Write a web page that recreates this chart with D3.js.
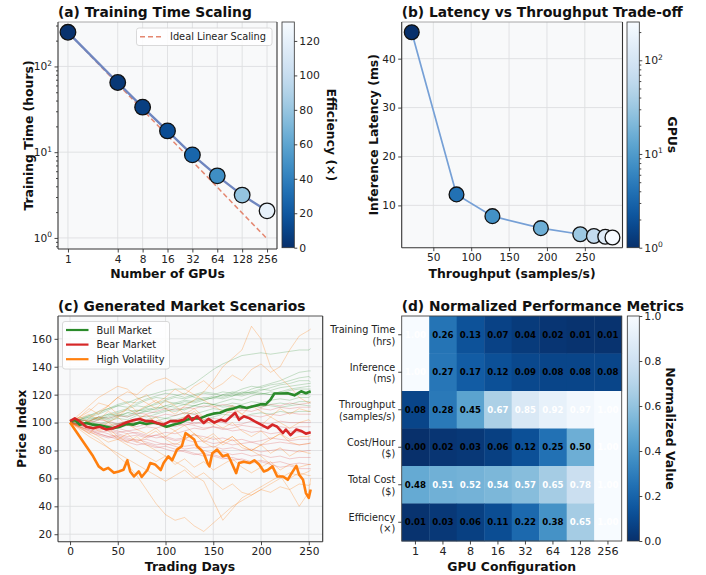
<!DOCTYPE html>
<html><head><meta charset="utf-8">
<script src="https://cdn.jsdelivr.net/npm/d3@7"></script>
<style>
body{margin:0;background:#fff;}
svg{display:block;font-family:"DejaVu Sans",sans-serif;}
</style></head><body>
<svg id="fig" width="706" height="575"></svg>
<script>
// ---------------- DATA ----------------
const gpus = [1,4,8,16,32,64,128,256];
const gpuLabels = ["1","4","8","16","32","64","128","256"];
const trainHours = [250,65,33.5,17.7,9.3,5.3,3.16,2.07];
const idealHours = [250,62.5,31.25,15.63,7.81,3.91,1.95,0.98];
const efficiency = [1,3.85,7.46,14.1,26.9,47.2,79.1,120.8];
const effRange = [0,131];
const effTicks = [0,20,40,60,80,100,120];

const throughput = [21.5,80.6,128,192,244,262,277,286.5];
const latency = [45.4,12.25,7.8,5.35,4.1,3.75,3.6,3.45];
const thrTicks = [50,100,150,200,250];
const latTicks = [10,20,30,40];

const scenarioNames = ["Bull Market","Bear Market","High Volatility"];
const scenarioColors = ["#2a8a2a","#d62728","#ff7f0e"];
const dayTicks = [0,50,100,150,200,250];
const priceTicks = [20,40,60,80,100,120,140,160];

const bullDays = [0,5,10,17,24,31,38,45,52,59,66,73,80,87,94,101,108,115,122,129,136,143,150,157,164,171,178,185,192,199,205,210,214,221,228,235,242,247,252];
const bullVals = [101,102,98.5,99.7,98.5,98,97,96,97,99,98.5,100,99,100,99,97,98.5,99.7,102,103,103,105,106.4,107,109,110,111.7,110.5,111.7,113,113,116.5,120.8,120.8,121,119.5,122.4,121,122.4];
const bearDays = [0,5,10,17,24,31,38,45,52,59,66,73,80,86,91,98,105,112,119,124,128,133,140,145,151,158,163,168,173,177,182,188,193,200,207,212,217,223,226,231,237,242,247,252];
const bearVals = [101,103,101,97,96,97,95,96,98,100,101.6,102.6,101,101,99.7,98.5,101,101,102,105,101.6,104.5,99.7,102.6,100,102,101,104,107,102,104.5,103,101,98.5,96,98.5,97,92.5,95,91,95,94,92,93];
const volDays = [0,10,17,24,30,35,40,46,51,56,60,63,67,72,75,81,84,89,95,98,103,107,112,117,121,126,130,133,137,140,144,146,149,154,160,165,168,174,177,182,188,193,198,203,207,212,217,223,228,231,237,240,244,247,250,252];
const volVals = [100,90,83,76,68.6,66,67.5,64,65,66.2,73,65,61.4,65,61,66,71,70,66,71,75.8,73,80.6,83,92.5,90,87.8,83,80.6,78,71,68.6,78,80.6,75.8,77,73,63.8,71,72,71,73,70,65,66,68.6,61.4,61.4,59,62.6,69,62.6,59,49.5,46,52];

const faintDays = [0,10,20,30,40,50,60,70,80,90,100,110,120,130,140,150,160,170,180,190,200,210,220,230,240,250,252];
const bullFaint = [
 [100,102,104,106,109,112,114,117,119,121,123,124,124,128,133,138,142,145,148,149,150,149,150,151,152,152,153],
 [100,101,99,102,104,106,105,108,110,109,112,114,113,116,118,117,120,122,121,124,126,128,130,133,136,137,137],
 [100,102,104,103,106,108,110,112,111,114,116,118,117,119,121,120,122,121,124,126,125,127,128,130,132,133,132],
 [100,99,101,103,102,104,107,106,109,111,110,113,115,114,116,118,120,119,122,121,123,125,127,128,130,130,129],
 [100,103,105,107,110,112,111,113,116,118,117,119,121,118,116,118,117,119,121,122,124,123,125,126,127,128,128],
 [100,98,100,99,101,103,102,105,104,106,108,110,109,112,114,113,115,117,116,119,121,120,122,124,125,126,126],
 [100,101,103,102,105,107,109,108,111,113,115,114,116,115,117,119,118,120,119,121,120,122,121,123,124,124,124],
 [100,102,101,104,103,105,104,106,108,107,109,108,110,112,111,113,112,114,113,115,114,116,117,116,118,118,119],
 [100,99,97,98,100,99,101,100,102,104,103,105,107,106,108,110,109,111,110,112,111,113,114,113,115,115,114],
 [100,101,102,104,106,105,107,109,108,110,112,111,113,112,114,113,111,112,110,111,113,112,111,112,113,112,112],
 [100,99,100,98,97,99,98,100,99,101,103,102,104,103,102,104,106,105,104,106,107,106,108,107,108,108,108],
 [100,102,105,108,110,113,115,114,117,119,121,120,118,120,122,121,119,121,120,122,121,120,122,121,120,120,121]
];
const bearFaint = [
 [100,102,101,104,103,105,104,107,106,108,110,109,111,110,112,111,113,112,110,112,111,113,112,114,113,114,114],
 [100,98,100,102,101,99,101,103,105,104,106,105,107,106,104,106,108,107,109,108,110,109,111,110,111,111,111],
 [100,101,99,97,98,96,98,97,99,101,100,102,101,99,101,103,102,104,103,105,104,106,105,107,106,106,106],
 [100,99,101,100,98,99,101,100,98,99,97,99,98,100,99,101,100,98,99,101,100,99,101,100,100,100,100],
 [100,98,96,97,95,96,94,95,97,96,98,97,99,98,96,97,95,96,98,97,96,98,97,96,97,97,97],
 [100,97,95,93,94,92,90,91,89,91,93,92,94,96,95,97,96,94,95,93,94,92,93,94,93,93,93],
 [100,99,97,95,96,94,92,93,91,89,90,88,89,91,90,88,89,87,88,86,87,89,88,87,88,88,88],
 [100,98,99,97,95,93,94,92,90,91,89,87,88,86,87,85,86,84,85,86,84,85,86,85,84,85,85],
 [100,97,94,92,90,91,89,87,88,86,84,85,83,84,82,83,81,82,80,81,79,80,81,80,79,80,80],
 [100,98,96,94,92,89,87,88,86,84,85,83,81,82,80,78,79,77,78,76,77,75,76,74,75,75,75],
 [100,97,95,92,90,88,86,84,85,83,81,79,80,78,76,77,75,73,74,72,73,71,72,70,71,70,70],
 [100,96,93,91,89,90,88,86,84,82,83,81,79,77,78,76,74,75,73,71,72,70,68,69,67,67,67]
];
const volFaint = [
 [100,104,110,106,112,118,114,108,112,116,110,106,112,116,122,130,140,146,152,169,160,140,132,126,118,114,115],
 [100,97,103,108,112,106,110,116,120,114,118,124,120,126,130,124,128,134,130,138,142,136,140,152,162,166,167],
 [100,97,92,88,82,76,70,62,52,42,34,30,32,26,22,28,34,40,44,48,52,50,54,52,56,55,56],
 [100,102,98,94,96,90,86,90,84,80,76,72,68,62,58,44,30,38,46,50,54,58,62,60,64,62,62],
 [100,98,101,104,100,96,99,95,92,96,90,94,88,92,86,90,84,88,82,80,76,70,62,52,40,50,60],
 [100,104,108,114,112,118,122,120,126,130,132,128,124,120,116,112,108,112,106,102,98,104,100,96,100,102,101],
 [100,96,92,98,94,88,92,86,90,94,88,84,88,92,86,82,86,90,84,80,84,88,92,88,90,90,91],
 [100,103,106,102,108,104,110,106,100,104,98,94,98,92,88,92,86,90,84,80,84,78,82,76,80,78,78],
 [100,97,94,90,86,88,84,80,76,72,76,70,74,68,72,66,70,74,68,64,68,72,66,70,68,70,70],
 [100,104,100,96,100,104,98,102,106,100,96,100,104,108,102,98,104,110,106,112,108,104,110,106,110,108,108],
 [100,106,112,118,122,126,124,118,114,110,116,112,106,110,104,100,96,100,94,90,94,88,92,86,84,85,86],
 [100,95,90,86,82,78,74,70,66,62,58,62,66,60,64,58,52,56,50,48,52,56,60,64,62,65,66]
];

const metricLabels = [["Training Time","(hrs)"],["Inference","(ms)"],["Throughput","(samples/s)"],["Cost/Hour","($)"],["Total Cost","($)"],["Efficiency","(×)"]];
const normTrain = [1.00,0.26,0.13,0.07,0.04,0.02,0.01,0.01];
const normInfer = [1.00,0.27,0.17,0.12,0.09,0.08,0.08,0.08];
const normThru  = [0.08,0.28,0.45,0.67,0.85,0.92,0.97,1.00];
const normCostH = [0.00,0.02,0.03,0.06,0.12,0.25,0.50,1.00];
const normTotal = [0.48,0.51,0.52,0.54,0.57,0.65,0.78,1.00];
const normEff   = [0.01,0.03,0.06,0.11,0.22,0.38,0.65,1.00];
const normRows = [normTrain,normInfer,normThru,normCostH,normTotal,normEff];
const normTicks = [0,0.2,0.4,0.6,0.8,1.0];

// ---------------- HELPERS ----------------
const svg = d3.select("#fig");
const FONT = "DejaVu Sans, sans-serif";
const BG = "#f8f9fa", GRID = "#dedfe1";
const TICKF = 10.6, LABF = 12.4, TITF = 13.8, CBF = 10.8;
const blues_r = t => d3.interpolateBlues(1 - Math.max(0, Math.min(1, t)));
const defs = svg.append("defs");

function pad(lo, hi) { const m = (hi - lo) * 0.05; return [lo - m, hi + m]; }

function background(box) {
  svg.append("rect").attr("x", box.x0).attr("y", box.y0)
    .attr("width", box.x1 - box.x0).attr("height", box.y1 - box.y0).attr("fill", BG);
}
function gridLines(box, xs, xv, ys, yv) {
  const g = svg.append("g");
  if (xs) g.selectAll(".gx").data(xv).join("line")
    .attr("x1", d => xs(d)).attr("x2", d => xs(d)).attr("y1", box.y0).attr("y2", box.y1)
    .attr("stroke", GRID).attr("stroke-width", 0.9);
  if (ys) g.selectAll(".gy").data(yv).join("line")
    .attr("y1", d => ys(d)).attr("y2", d => ys(d)).attr("x1", box.x0).attr("x2", box.x1)
    .attr("stroke", GRID).attr("stroke-width", 0.9);
}
function spines(box, topCol) {
  const g = svg.append("g").attr("fill", "none");
  g.append("line").attr("x1", box.x0).attr("x2", box.x1).attr("y1", box.y0).attr("y2", box.y0).attr("stroke", topCol || "#a8a8a8").attr("stroke-width", 1);
  g.append("line").attr("x1", box.x1).attr("x2", box.x1).attr("y1", box.y0).attr("y2", box.y1).attr("stroke", "#333").attr("stroke-width", 1.1);
  g.append("line").attr("x1", box.x0).attr("x2", box.x0).attr("y1", box.y0).attr("y2", box.y1).attr("stroke", "#333").attr("stroke-width", 1.1);
  g.append("line").attr("x1", box.x0).attr("x2", box.x1).attr("y1", box.y1).attr("y2", box.y1).attr("stroke", "#333").attr("stroke-width", 1.1);
}
function styleAxis(a, fs) {
  a.select(".domain").remove();
  a.selectAll("line").attr("stroke", "#333").attr("stroke-width", 0.9);
  a.selectAll("text").attr("font-size", fs || TICKF).attr("fill", "#222").attr("font-family", FONT);
}
function xAxis(box, scale, vals, fmt) {
  const a = svg.append("g").attr("transform", `translate(0,${box.y1})`)
    .call(d3.axisBottom(scale).tickValues(vals).tickFormat(fmt).tickSize(3.5).tickPadding(2.5));
  styleAxis(a);
  return a;
}
function yAxis(box, scale, vals, fmt) {
  const a = svg.append("g").attr("transform", `translate(${box.x0},0)`)
    .call(d3.axisLeft(scale).tickValues(vals).tickFormat(fmt).tickSize(3.5).tickPadding(2.5));
  styleAxis(a);
  return a;
}
function title(box, txt) {
  svg.append("text").attr("x", box.x0).attr("y", box.y0 - 5).text(txt)
    .attr("font-size", TITF).attr("font-weight", "bold").attr("fill", "#111").attr("font-family", FONT);
}
function label(x, y, txt, rot) {
  svg.append("text").attr("transform", `translate(${x},${y}) rotate(${rot || 0})`)
    .attr("text-anchor", "middle").attr("dominant-baseline", "central").text(txt)
    .attr("font-size", LABF).attr("font-weight", "bold").attr("fill", "#111").attr("font-family", FONT);
}
function colorbar(id, cb, scale, ticks, fmt, minor) {
  const grad = defs.append("linearGradient").attr("id", id)
    .attr("x1", 0).attr("y1", 1).attr("x2", 0).attr("y2", 0);
  d3.range(0, 1.0001, 0.05).forEach(t => grad.append("stop").attr("offset", t).attr("stop-color", blues_r(t)));
  svg.append("rect").attr("x", cb.x0).attr("y", cb.y0).attr("width", cb.x1 - cb.x0).attr("height", cb.y1 - cb.y0)
    .attr("fill", `url(#${id})`).attr("stroke", "#333").attr("stroke-width", 0.8);
  if (minor) {
    const m = svg.append("g").attr("transform", `translate(${cb.x1},0)`)
      .call(d3.axisRight(scale).tickValues(minor).tickFormat("").tickSize(2));
    styleAxis(m);
  }
  const a = svg.append("g").attr("transform", `translate(${cb.x1},0)`)
    .call(d3.axisRight(scale).tickValues(ticks).tickFormat(fmt).tickSize(3).tickPadding(2));
  styleAxis(a, CBF);
  return a;
}
function powLabels(axisG, base, fs) {
  axisG.selectAll(".tick text").each(function(d) {
    const t = d3.select(this); t.text("");
    t.append("tspan").text(base);
    t.append("tspan").text(Math.round(Math.log10(d))).attr("font-size", fs * 0.7).attr("dy", -fs * 0.42);
  });
}

// ---------------- (a) Training Time Scaling ----------------
const A = {x0: 58, x1: 277, y0: 22, y1: 249};
const ax = d3.scaleLog().base(2).domain([Math.pow(2, -0.4), Math.pow(2, 8.4)]).range([A.x0, A.x1]);
const aLog = pad(Math.log10(d3.min(idealHours.concat(trainHours))), Math.log10(d3.max(trainHours.concat(idealHours))));
const ay = d3.scaleLog().domain([Math.pow(10, aLog[0]), Math.pow(10, aLog[1])]).range([A.y1, A.y0]);
background(A);
gridLines(A, ax, gpus, ay, [1, 10, 100]);
svg.append("path").datum(gpus.map((g, i) => [g, idealHours[i]]))
  .attr("d", d3.line().x(d => ax(d[0])).y(d => ay(d[1])))
  .attr("fill", "none").attr("stroke", "#e07358").attr("stroke-width", 1.5).attr("stroke-dasharray", "5,3").attr("opacity", 0.85);
svg.append("path").datum(gpus.map((g, i) => [g, trainHours[i]]))
  .attr("d", d3.line().x(d => ax(d[0])).y(d => ay(d[1])))
  .attr("fill", "none").attr("stroke", "#6f86bf").attr("stroke-width", 2.4);
const effScale = d3.scaleLinear().domain(effRange).range([0, 1]);
svg.append("g").selectAll("circle").data(gpus).join("circle")
  .attr("cx", d => ax(d)).attr("cy", (d, i) => ay(trainHours[i])).attr("r", 7.8)
  .attr("fill", (d, i) => blues_r(effScale(efficiency[i]))).attr("stroke", "#111").attr("stroke-width", 1.3);
spines(A);
xAxis(A, ax, gpus, (d, i) => gpuLabels[i]);
{
  const minorVals = [];
  [0.1, 1, 10, 100].forEach(b => d3.range(2, 10).forEach(k => { const v = b * k; if (v > ay.domain()[0] && v < ay.domain()[1]) minorVals.push(v); }));
  const m = svg.append("g").attr("transform", `translate(${A.x0},0)`)
    .call(d3.axisLeft(ay).tickValues(minorVals).tickFormat("").tickSize(2));
  styleAxis(m);
  const y = yAxis(A, ay, [1, 10, 100], d => d);
  powLabels(y, "10", TICKF);
}
// legend
{
  const lg = svg.append("g");
  lg.append("rect").attr("x", 136.5).attr("y", 28).attr("width", 135.5).attr("height", 17.5).attr("rx", 2.5)
    .attr("fill", "#fff").attr("fill-opacity", 0.85).attr("stroke", "#d0d0d0").attr("stroke-width", 0.8);
  lg.append("line").attr("x1", 140).attr("x2", 162).attr("y1", 36.8).attr("y2", 36.8)
    .attr("stroke", "#e07358").attr("stroke-width", 1.5).attr("stroke-dasharray", "5,3").attr("opacity", 0.85);
  lg.append("text").attr("x", 170).attr("y", 36.8).attr("dominant-baseline", "central").text("Ideal Linear Scaling")
    .attr("font-size", 9.8).attr("fill", "#222").attr("font-family", FONT);
}
title(A, "(a) Training Time Scaling");
label((A.x0 + A.x1) / 2, 273, "Number of GPUs");
label(28, (A.y0 + A.y1) / 2, "Training Time (hours)", -90);
const CA = {x0: 282, x1: 294.3, y0: 22, y1: 247.7};
colorbar("cbA", CA, d3.scaleLinear().domain(effRange).range([CA.y1, CA.y0]), effTicks, d => d);
label(331, (CA.y0 + CA.y1) / 2, "Efficiency (×)", 90);

// ---------------- (b) Latency vs Throughput ----------------
const B = {x0: 401.7, x1: 622.5, y0: 22, y1: 247.7};
const bx = d3.scaleLinear().domain(pad(d3.min(throughput), d3.max(throughput))).range([B.x0, B.x1]);
const by = d3.scaleLinear().domain(pad(d3.min(latency), d3.max(latency))).range([B.y1, B.y0]);
background(B);
gridLines(B, bx, thrTicks, by, latTicks);
svg.append("path").datum(throughput.map((t, i) => [t, latency[i]]))
  .attr("d", d3.line().x(d => bx(d[0])).y(d => by(d[1])))
  .attr("fill", "none").attr("stroke", "#76a0d6").attr("stroke-width", 1.7);
const gpuLog = d3.scaleLog().domain([1, 256]).range([0, 1]);
svg.append("g").selectAll("circle").data(throughput).join("circle")
  .attr("cx", d => bx(d)).attr("cy", (d, i) => by(latency[i])).attr("r", 7.4)
  .attr("fill", (d, i) => blues_r(gpuLog(gpus[i]))).attr("stroke", "#111").attr("stroke-width", 1.3);
spines(B);
xAxis(B, bx, thrTicks, d => d);
yAxis(B, by, latTicks, d => d);
title(B, "(b) Latency vs Throughput Trade-off");
label((B.x0 + B.x1) / 2, 273, "Throughput (samples/s)");
label(373.3, (B.y0 + B.y1) / 2, "Inference Latency (ms)", -90);
const CB = {x0: 627, x1: 639.3, y0: 22, y1: 247.7};
{
  const cs = d3.scaleLog().domain([1, 256]).range([CB.y1, CB.y0]);
  const minor = [2,3,4,5,6,7,8,9,20,30,40,50,60,70,80,90,200];
  const a = colorbar("cbB", CB, cs, [1, 10, 100], d => d, minor);
  powLabels(a, "10", CBF);
}
label(672, (CB.y0 + CB.y1) / 2, "GPUs", 90);

// ---------------- (c) Market Scenarios ----------------
const C = {x0: 58, x1: 322.7, y0: 316, y1: 541.7};
const allPrices = [].concat(bullVals, bearVals, volVals, ...bullFaint, ...bearFaint, ...volFaint);
const cx = d3.scaleLinear().domain(pad(0, 252)).range([C.x0, C.x1]);
const cy = d3.scaleLinear().domain(pad(d3.min(allPrices), d3.max(allPrices))).range([C.y1, C.y0]);
background(C);
gridLines(C, cx, dayTicks, cy, priceTicks);
const lineC = d3.line().x(d => cx(d[0])).y(d => cy(d[1]));
const clipC = defs.append("clipPath").attr("id", "clipC");
clipC.append("rect").attr("x", C.x0).attr("y", C.y0).attr("width", C.x1 - C.x0).attr("height", C.y1 - C.y0);
const gc = svg.append("g").attr("clip-path", "url(#clipC)");
const faintOpacity = [0.26, 0.24, 0.3];
[bullFaint, bearFaint, volFaint].forEach((set, si) => {
  set.forEach(vals => {
    gc.append("path").datum(faintDays.map((d, i) => [d, vals[i]])).attr("d", lineC)
      .attr("fill", "none").attr("stroke", scenarioColors[si]).attr("stroke-width", 0.95)
      .attr("stroke-opacity", faintOpacity[si]).attr("stroke-linejoin", "round");
  });
});
[[bullDays, bullVals], [bearDays, bearVals], [volDays, volVals]].forEach((s, si) => {
  gc.append("path").datum(s[0].map((d, i) => [d, s[1][i]])).attr("d", lineC)
    .attr("fill", "none").attr("stroke", scenarioColors[si]).attr("stroke-width", 2.6).attr("stroke-linejoin", "round");
});
spines(C, "#555");
xAxis(C, cx, dayTicks, d => d);
yAxis(C, cy, priceTicks, d => d);
{
  const lg = svg.append("g");
  lg.append("rect").attr("x", 62.5).attr("y", 321.5).attr("width", 107).attr("height", 47.5).attr("rx", 2.5)
    .attr("fill", "#fff").attr("fill-opacity", 0.85).attr("stroke", "#d0d0d0").attr("stroke-width", 0.8);
  scenarioNames.forEach((n, i) => {
    const y = 330 + i * 14.6;
    lg.append("line").attr("x1", 66).attr("x2", 88.5).attr("y1", y).attr("y2", y)
      .attr("stroke", scenarioColors[i]).attr("stroke-width", 2.2);
    lg.append("text").attr("x", 96.5).attr("y", y).attr("dominant-baseline", "central").text(n)
      .attr("font-size", 9.8).attr("fill", "#222").attr("font-family", FONT);
  });
}
title(C, "(c) Generated Market Scenarios");
label((C.x0 + C.x1) / 2 - 0.3, 566.5, "Trading Days");
label(21.7, (C.y0 + C.y1) / 2, "Price Index", -90);

// ---------------- (d) Heatmap ----------------
const D = {x0: 401.7, x1: 621.7, y0: 316, y1: 541};
const dx = d3.scaleBand().domain(gpuLabels).range([D.x0, D.x1]);
const dy = d3.scaleBand().domain(metricLabels.map(m => m.join(" "))).range([D.y0, D.y1]);
const hm = svg.append("g");
normRows.forEach((row, r) => {
  const key = metricLabels[r].join(" ");
  row.forEach((v, c) => {
    hm.append("rect").attr("x", dx(gpuLabels[c])).attr("y", dy(key))
      .attr("width", dx.bandwidth() + 0.4).attr("height", dy.bandwidth() + 0.4).attr("fill", blues_r(v));
    hm.append("text").attr("x", dx(gpuLabels[c]) + dx.bandwidth() / 2).attr("y", dy(key) + dy.bandwidth() / 2)
      .attr("text-anchor", "middle").attr("dominant-baseline", "central")
      .attr("font-size", 8.6).attr("font-weight", "bold").attr("font-family", FONT)
      .attr("fill", v > 0.5 ? "#fff" : "#000").text(v.toFixed(2));
  });
});
svg.append("rect").attr("x", D.x0).attr("y", D.y0).attr("width", D.x1 - D.x0).attr("height", D.y1 - D.y0)
  .attr("fill", "none").attr("stroke", "#444").attr("stroke-width", 0.9);
{
  const a = svg.append("g").attr("transform", `translate(0,${D.y1})`)
    .call(d3.axisBottom(dx).tickSize(3.5).tickPadding(2.5));
  styleAxis(a, 11.2);
  const y = svg.append("g").attr("transform", `translate(${D.x0},0)`)
    .call(d3.axisLeft(dy).tickSize(3.5).tickFormat(""));
  styleAxis(y);
  metricLabels.forEach((m, r) => {
    const yc = dy(m.join(" ")) + dy.bandwidth() / 2;
    m.forEach((s, k) => {
      svg.append("text").attr("x", D.x0 - 6.5).attr("y", yc + (k === 0 ? -5.2 : 6.4))
        .attr("text-anchor", "end").attr("dominant-baseline", "central").text(s)
        .attr("font-size", 9.7).attr("fill", "#222").attr("font-family", FONT);
    });
  });
}
title(D, "(d) Normalized Performance Metrics");
label((D.x0 + D.x1) / 2, 566, "GPU Configuration");
const CD = {x0: 627.3, x1: 639.3, y0: 316, y1: 541};
colorbar("cbD", CD, d3.scaleLinear().domain([0, 1]).range([CD.y1, CD.y0]), normTicks, d3.format(".1f"));
label(670, (CD.y0 + CD.y1) / 2, "Normalized Value", 90);
</script>
</body></html>
